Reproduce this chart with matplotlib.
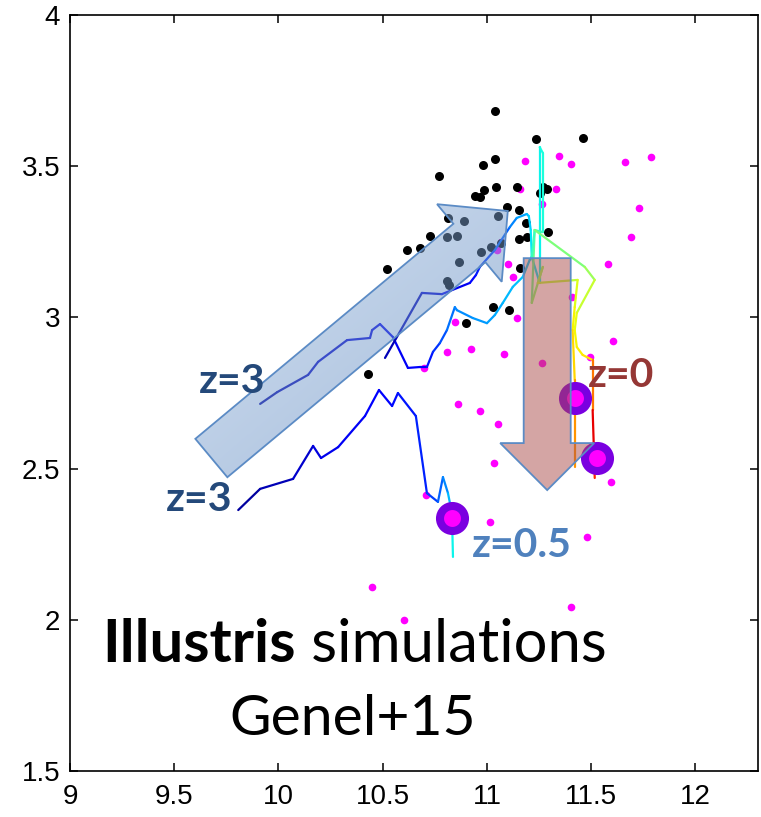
#!/bin/env python3

import numpy as np
import matplotlib as mpl
import matplotlib.pyplot as plt
from matplotlib.collections import LineCollection
from matplotlib.colors import LinearSegmentedColormap
from matplotlib.patches import Polygon

mpl.rcParams['font.family'] = ['Liberation Sans', 'DejaVu Sans']

figSize = (7.61, 8.17)
dpi = 100
tick_fontsize = 20
label_font = 'Lato'

x_ticks = [9, 9.5, 10, 10.5, 11, 11.5, 12]
x_tick_labels = ['9', '9.5', '10', '10.5', '11', '11.5', '12']
y_ticks = [1.5, 2, 2.5, 3, 3.5, 4]
y_tick_labels = ['1.5', '2', '2.5', '3', '3.5', '4']

# observed sample (black)
obs_x = [11.038, 11.234, 11.459, 10.980, 11.038, 10.770, 10.985, 11.043, 10.942, 10.966,
         11.143, 11.268, 11.287, 11.253, 11.095, 11.153, 10.813, 10.889, 11.052, 10.727,
         10.808, 10.856, 10.679, 10.616, 10.521, 10.971, 11.019, 11.067, 10.865, 10.808,
         10.818, 11.186, 11.153, 11.191, 11.292, 11.158, 11.028, 11.105, 10.899, 10.430]
obs_y = [3.683, 3.590, 3.593, 3.504, 3.524, 3.468, 3.421, 3.431, 3.401, 3.398,
         3.431, 3.431, 3.425, 3.411, 3.365, 3.355, 3.329, 3.319, 3.335, 3.269,
         3.266, 3.269, 3.229, 3.223, 3.160, 3.216, 3.233, 3.246, 3.183, 3.120,
         3.107, 3.312, 3.259, 3.266, 3.282, 3.163, 3.034, 3.024, 2.981, 2.813]

# simulated galaxies (magenta)
sim_x = [11.182, 11.344, 11.402, 11.660, 11.785, 11.158, 11.330, 11.263, 11.727, 11.689,
         11.067, 11.048, 11.100, 11.124, 11.579, 11.407, 10.846, 11.143, 10.808, 10.923,
         11.081, 11.263, 11.603, 11.493, 10.861, 10.966, 11.052, 11.033, 11.593, 11.014,
         11.478, 10.697, 10.707, 10.449, 10.602, 11.402]
sim_y = [3.517, 3.534, 3.507, 3.514, 3.530, 3.425, 3.425, 3.375, 3.362, 3.266,
         3.249, 3.223, 3.177, 3.134, 3.177, 3.067, 2.985, 2.998, 2.886, 2.896,
         2.879, 2.849, 2.922, 2.869, 2.714, 2.690, 2.647, 2.519, 2.456, 2.323,
         2.274, 2.833, 2.413, 2.108, 2.000, 2.042]

# evolution tracks, colour value runs from early (0) to late (1)
track1_x = [9.807, 9.912, 10.070, 10.166, 10.204, 10.286, 10.415, 10.482, 10.545, 10.573,
            10.659, 10.712, 10.765, 10.789, 10.813, 10.832, 10.837]
track1_y = [2.363, 2.433, 2.466, 2.575, 2.535, 2.571, 2.674, 2.760, 2.707, 2.750,
            2.674, 2.419, 2.390, 2.472, 2.419, 2.353, 2.208]
track1_c = [0.02, 0.04, 0.06, 0.08, 0.09, 0.10, 0.11, 0.12, 0.13, 0.14,
            0.15, 0.17, 0.20, 0.24, 0.28, 0.33, 0.40]

track2_x = [9.912, 9.994, 10.142, 10.190, 10.329, 10.439, 10.449, 10.487, 10.549, 10.621,
            10.679, 10.712, 10.741, 10.774, 10.808, 10.846, 10.856, 10.932, 11.000, 11.038,
            11.076, 11.124, 11.172, 11.205, 11.215, 11.253, 11.253, 11.268, 11.268, 11.229,
            11.215, 11.268, 11.244, 11.435, 11.421, 11.411, 11.421, 11.421]
track2_y = [2.714, 2.753, 2.810, 2.853, 2.925, 2.932, 2.958, 2.978, 2.935, 2.833,
            2.836, 2.836, 2.886, 2.915, 2.958, 3.034, 3.024, 2.998, 2.981, 3.008,
            3.048, 3.101, 3.134, 3.190, 3.200, 3.114, 3.563, 3.544, 3.282, 3.289,
            3.048, 3.167, 3.114, 3.124, 3.034, 2.958, 2.793, 2.505]
track2_c = [0.03, 0.04, 0.05, 0.06, 0.07, 0.08, 0.08, 0.09, 0.10, 0.11,
            0.12, 0.13, 0.16, 0.19, 0.22, 0.25, 0.26, 0.27, 0.28, 0.29,
            0.30, 0.31, 0.32, 0.33, 0.34, 0.36, 0.37, 0.38, 0.39, 0.45,
            0.50, 0.52, 0.55, 0.60, 0.64, 0.66, 0.70, 0.80]

track3_x = [10.511, 10.688, 10.784, 10.918, 10.947, 10.966, 11.038, 11.110, 11.143, 11.191,
            11.201, 11.210, 11.215, 11.229, 11.469, 11.517, 11.431, 11.421, 11.431, 11.459,
            11.507, 11.507, 11.512, 11.517]
track3_y = [2.866, 3.081, 3.077, 3.114, 3.140, 3.167, 3.223, 3.299, 3.329, 3.342,
            3.335, 3.289, 3.200, 3.289, 3.167, 3.124, 3.015, 2.958, 2.902, 2.876,
            2.859, 2.694, 2.585, 2.469]
track3_c = [0.04, 0.06, 0.08, 0.12, 0.14, 0.16, 0.20, 0.24, 0.27, 0.30,
            0.32, 0.34, 0.36, 0.48, 0.52, 0.56, 0.62, 0.64, 0.65, 0.66,
            0.67, 0.90, 0.92, 0.82]

# highlighted galaxies
mark_x = [10.832, 11.421, 11.526]
mark_y = [2.337, 2.733, 2.535]

# redshift labels: text, x, y, colour
z_labels = [
    ('z=3', 9.616, 2.750, '#24497A'),
    ('z=3', 9.458, 2.360, '#24497A'),
    ('z=0', 11.483, 2.770, '#953735'),
    ('z=0.5', 10.928, 2.208, '#4F81BD'),
]


def fat_arrow(ax, tail, tip, shaft_w, head_w, head_len, **kw):
    # outline is built in pixels so the arrow keeps its shape on the unequal axes
    p0 = ax.transData.transform(tail)
    p1 = ax.transData.transform(tip)
    u = (p1 - p0) / np.hypot(*(p1 - p0))
    n = np.array([-u[1], u[0]])
    base = p1 - u * head_len
    pts = [p0 + n * shaft_w / 2, base + n * shaft_w / 2, base + n * head_w / 2, p1,
           base - n * head_w / 2, base - n * shaft_w / 2, p0 - n * shaft_w / 2]
    pts = ax.transData.inverted().transform(np.array(pts))
    poly = Polygon(pts, closed=True, **kw)
    ax.add_patch(poly)
    return poly, n


def add_track(ax, xs, ys, cs):
    pts = np.column_stack([xs, ys])
    segs = np.stack([pts[:-1], pts[1:]], axis=1)
    cvals = (np.array(cs[:-1]) + np.array(cs[1:])) / 2
    lc = LineCollection(segs, colors=plt.cm.jet(cvals), linewidths=1.6, zorder=3,
                        capstyle='round', joinstyle='round')
    ax.add_collection(lc)


def plot_tracks(filename):
    fig = plt.figure(figsize=figSize, dpi=dpi)
    ax = fig.add_axes([0.092, 0.0563, 0.904, 0.9253])

    ax.set_xlim(9, 12.3)
    ax.set_ylim(1.5, 4)

    ax.plot(sim_x, sim_y, 'o', color='#FF00FF', markersize=5.5, markeredgewidth=0, zorder=2)
    ax.plot(obs_x, obs_y, 'o', color='black', markersize=6.5, markeredgewidth=0, zorder=2)

    add_track(ax, track1_x, track1_y, track1_c)
    add_track(ax, track2_x, track2_y, track2_c)
    add_track(ax, track3_x, track3_y, track3_c)

    ax.plot(mark_x, mark_y, 'o', markersize=18, markerfacecolor='#FF00FF',
            markeredgecolor='#7A00E0', markeredgewidth=5.8, zorder=4)

    edge = '#5B8BC5'

    # blue arrow with a soft gradient across the shaft
    poly, n = fat_arrow(ax, (9.678, 2.535), (11.10, 3.352), 50, 101, 50,
                        facecolor='none', edgecolor=edge, linewidth=1.3, zorder=6)
    verts = poly.get_xy()
    x0, y0 = verts.min(axis=0)
    x1, y1 = verts.max(axis=0)
    gx, gy = np.meshgrid(np.linspace(x0, x1, 200), np.linspace(y1, y0, 200))
    disp = ax.transData.transform(np.column_stack([gx.ravel(), gy.ravel()]))
    proj = disp @ n
    proj = ((proj - proj.min()) / (proj.max() - proj.min())).reshape(gx.shape)
    cmap = LinearSegmentedColormap.from_list('arrow_blue', ['#4A7AB6', '#A3BEE2'])
    im = ax.imshow(proj, extent=(x0, x1, y0, y1), cmap=cmap, alpha=0.5,
                   aspect='auto', interpolation='bilinear', zorder=5)
    im.set_clip_path(poly)

    # pink arrow pointing down
    fat_arrow(ax, (11.289, 3.196), (11.289, 2.429), 47, 94, 47,
              facecolor=(0.67, 0.30, 0.29, 0.5), edgecolor=edge, linewidth=1.3, zorder=6)

    ax.set_xlim(9, 12.3)
    ax.set_ylim(1.5, 4)

    for txt, tx, ty, col in z_labels:
        ax.text(tx, ty, txt, color=col, fontsize=29.5, fontweight='bold',
                family=label_font, ha='left', va='baseline', zorder=8)

    t1 = ax.text(9.156, 1.860, 'Illustris', fontsize=43, fontweight='bold',
                 family=label_font, ha='left', va='baseline', zorder=8)
    ax.annotate(' simulations', xy=(1, 0), xycoords=t1, fontsize=43,
                family=label_font, ha='left', va='bottom', zorder=8)
    ax.text(10.357, 1.619, 'Genel+15', fontsize=41, family=label_font,
            ha='center', va='baseline', zorder=8)

    ax.set_xticks(x_ticks, x_tick_labels, fontsize=tick_fontsize)
    ax.set_yticks(y_ticks, y_tick_labels, fontsize=tick_fontsize)
    ax.tick_params(direction='in', length=6, width=1.1, top=True, right=True, pad=7)
    ax.tick_params(axis='x', pad=9)
    for sp in ax.spines.values():
        sp.set_linewidth(1.2)

    plt.savefig(filename, dpi=dpi)


if __name__ == '__main__':
    plot_tracks('out.png')
